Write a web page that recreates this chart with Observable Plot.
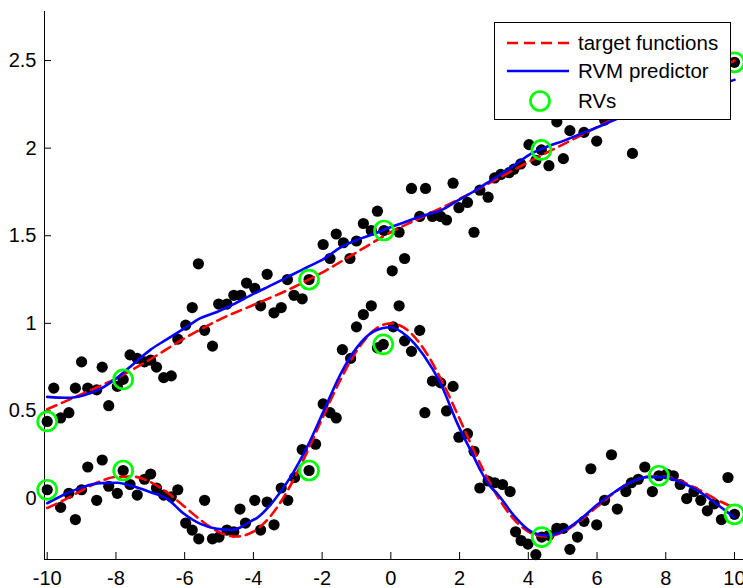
<!DOCTYPE html>
<html>
<head>
<meta charset="utf-8">
<script src="https://cdn.jsdelivr.net/npm/d3@7"></script>
<script src="https://cdn.jsdelivr.net/npm/@observablehq/plot@0.6"></script>
<style>
  html, body { margin: 0; padding: 0; background: #fff; }
  #wrap { position: relative; width: 743px; height: 588px; overflow: hidden; font-family: "Liberation Sans", Arial, sans-serif; }
  #legend { position: absolute; left: 494px; top: 22px; width: 235px; height: 96px; border: 1px solid #000; background: #fff; }
  .row { position: absolute; left: 0; height: 28px; width: 235px; }
  .row svg { position: absolute; left: 10px; top: 0; }
  .row span { position: absolute; left: 83px; top: 1px; font-size: 20.5px; line-height: 24px; color: #000; white-space: nowrap; }
</style>
</head>
<body>
<div id="wrap"></div>
<script>
// ---- tick labels ----
const xTicks = [-10, -8, -6, -4, -2, 0, 2, 4, 6, 8, 10];
const yTicks = [0, 0.5, 1, 1.5, 2, 2.5];

// ---- noisy samples, upper series (linear target) ----
const upperX = [-10.00,-9.81,-9.61,-9.37,-9.18,-9.00,-8.82,-8.56,-8.40,-8.21,-7.96,-7.79,-7.59,-7.38,-7.17,-6.99,-6.82,-6.61,-6.39,-6.20,-5.97,-5.78,-5.60,-5.42,-5.19,-5.01,-4.77,-4.57,-4.37,-4.20,-3.96,-3.79,-3.60,-3.40,-3.19,-3.01,-2.82,-2.58,-2.38,-1.97,-1.77,-1.59,-1.38,-1.19,-1.00,-0.80,-0.57,-0.39,-0.20,0.04,0.24,0.40,0.60,0.84,1.01,1.21,1.45,1.62,1.81,1.98,2.23,2.42,2.59,2.83,3.02,3.20,3.44,3.58,3.78,4.02,4.22,4.38,4.60,4.83,5.02,5.21,5.62,5.99,6.22,7.03,10.00];
const upperY = [0.44,0.63,0.46,0.49,0.63,0.78,0.63,0.62,0.75,0.53,0.64,0.68,0.82,0.80,0.78,0.79,0.75,0.69,0.70,0.91,0.99,1.09,1.34,0.96,0.87,1.11,1.11,1.16,1.16,1.23,1.20,1.10,1.28,1.06,1.09,1.25,1.16,1.14,1.25,1.45,1.37,1.51,1.46,1.37,1.47,1.57,1.53,1.64,1.53,1.30,1.52,1.37,1.77,1.61,1.77,1.61,1.61,1.59,1.80,1.66,1.69,1.52,1.76,1.72,1.83,1.85,1.86,1.88,1.91,2.02,1.93,1.99,1.90,2.15,1.94,2.10,2.09,2.04,2.16,1.97,2.49];

// ---- noisy samples, lower series (sinc target) ----
const lowerX = [-10.00,-9.61,-9.37,-9.18,-9.00,-8.82,-8.56,-8.40,-8.21,-7.96,-7.79,-7.59,-7.38,-7.17,-6.99,-6.82,-6.61,-6.39,-6.20,-5.97,-5.78,-5.59,-5.42,-5.19,-5.00,-4.77,-4.57,-4.39,-4.23,-3.96,-3.79,-3.60,-3.40,-3.19,-3.00,-2.80,-2.58,-2.38,-2.19,-1.97,-1.77,-1.59,-1.41,-1.17,-1.00,-0.80,-0.57,-0.39,-0.22,0.07,0.24,0.40,0.60,0.84,0.99,1.21,1.45,1.62,1.81,1.98,2.23,2.42,2.59,2.83,3.02,3.25,3.47,3.63,3.79,3.99,4.22,4.39,4.60,4.83,5.02,5.21,5.43,5.62,5.82,5.99,6.22,6.42,6.59,6.84,7.00,7.20,7.39,7.61,7.80,8.03,8.22,8.42,8.61,8.82,9.02,9.21,9.41,9.62,9.81,10.00];
const lowerY = [0.05,-0.05,0.03,-0.12,0.05,0.18,-0.01,0.22,0.07,0.03,0.16,0.08,0.02,0.11,0.14,0.06,0.02,0.01,0.05,-0.14,-0.18,-0.23,-0.01,-0.23,-0.22,-0.18,-0.19,-0.06,-0.14,-0.01,-0.18,-0.02,-0.15,0.06,-0.01,0.12,0.28,0.16,0.31,0.54,0.49,0.46,0.85,0.80,0.98,1.05,1.10,0.86,0.88,0.98,1.10,0.90,0.84,0.96,0.49,0.67,0.66,0.50,0.64,0.35,0.37,0.27,0.06,0.10,0.09,0.08,0.04,-0.19,-0.24,-0.26,-0.32,-0.22,-0.21,-0.17,-0.17,-0.29,-0.22,-0.13,0.17,-0.15,-0.01,0.25,-0.06,0.04,0.09,0.11,0.18,0.04,0.13,0.14,0.13,0.08,0.00,0.04,-0.01,-0.07,-0.03,-0.12,0.12,-0.09];

// ---- relevance vectors ----
const rvX = [-10.00,-7.79,-2.38,-0.20,4.38,10.00,-10.00,-7.79,-2.38,-0.22,4.39,7.80,10.00];
const rvY = [0.44,0.68,1.25,1.53,1.99,2.49,0.05,0.16,0.16,0.88,-0.22,0.13,-0.09];

// ---- target functions (red dashed) ----
const targetUpperX = [-10,-9,-8,-7,-6,-5,-4,-3,-2,-1,0,1,2,3,4,5,6,7,8,9,10];
const targetUpperY = [0.51,0.595,0.685,0.795,0.915,1.02,1.105,1.19,1.29,1.405,1.52,1.615,1.71,1.815,1.92,2.02,2.12,2.22,2.31,2.40,2.50];
const targetLowerX = [-10,-9.5,-9,-8.5,-8,-7.5,-7,-6.5,-6,-5.5,-5,-4.5,-4,-3.5,-3,-2.5,-2,-1.5,-1,-0.5,0,0.5,1,1.5,2,2.5,3,3.5,4,4.5,5,5.5,6,6.5,7,7.5,8,8.5,9,9.5,10];
const targetLowerY = [-0.054,-0.008,0.046,0.094,0.124,0.125,0.094,0.033,-0.047,-0.128,-0.192,-0.217,-0.189,-0.100,0.047,0.239,0.455,0.665,0.841,0.959,1.000,0.959,0.841,0.665,0.455,0.239,0.047,-0.100,-0.189,-0.217,-0.192,-0.128,-0.047,0.033,0.094,0.125,0.124,0.094,0.046,-0.008,-0.054];

// ---- RVM predictor (blue) ----
const predUpperX = [-10,-9.42,-8.93,-8.45,-7.96,-7.48,-6.99,-6.51,-6.02,-5.54,-5.06,-4.57,-4.08,-3.40,-2.92,-2.44,-1.95,-1.46,-0.98,-0.49,-0.01,0.48,0.96,1.45,1.94,2.42,2.91,3.58,4.07,4.56,5.04,5.53,6.01,6.50,7.50,8.50,9.50,10];
const predUpperY = [0.58,0.575,0.59,0.626,0.69,0.77,0.85,0.91,0.97,1.03,1.065,1.11,1.16,1.225,1.273,1.32,1.368,1.434,1.477,1.511,1.549,1.583,1.615,1.645,1.70,1.754,1.815,1.90,1.967,2.009,2.043,2.082,2.119,2.161,2.24,2.31,2.36,2.39];
const predLowerX = [-10,-9.42,-8.93,-8.45,-7.96,-7.48,-6.99,-6.51,-6.02,-5.54,-5.06,-4.61,-4.37,-4.08,-3.89,-3.40,-2.92,-2.44,-1.95,-1.46,-0.98,-0.49,-0.01,0.48,0.96,1.45,1.94,2.42,2.61,2.91,3.10,3.58,4.07,4.56,5.04,5.53,6.01,6.50,6.98,7.47,7.95,8.44,8.92,9.41,9.99];
const predLowerY = [-0.027,0.03,0.068,0.088,0.09,0.068,0.036,-0.002,-0.087,-0.145,-0.173,-0.179,-0.164,-0.13,-0.11,-0.011,0.122,0.293,0.502,0.712,0.864,0.955,0.978,0.925,0.816,0.655,0.426,0.236,0.16,0.065,0.027,-0.097,-0.187,-0.211,-0.183,-0.116,-0.034,0.036,0.093,0.122,0.122,0.093,0.046,-0.021,-0.107];

const zip = (xs, ys) => xs.map((x, i) => ({x, y: ys[i]}));
const upper = zip(upperX, upperY);
const lower = zip(lowerX, lowerY);
const rvs = zip(rvX, rvY);
const tUp = zip(targetUpperX, targetUpperY);
const tLo = zip(targetLowerX, targetLowerY);
const pUp = zip(predUpperX, predUpperY);
const pLo = zip(predLowerX, predLowerY);

const xDom = [-10.079, 10.262];
const yDom = [-0.348, 2.780];

const dashed = {x: "x", y: "y", stroke: "#ff0000", strokeWidth: 2.6, strokeDasharray: "10,6", curve: "monotone-x"};
const solid = {x: "x", y: "y", stroke: "#0000ff", strokeWidth: 2.6, curve: "monotone-x"};

const chart = Plot.plot({
  width: 743,
  height: 588,
  marginLeft: 44,
  marginRight: 0,
  marginTop: 11,
  marginBottom: 29,
  style: {fontFamily: "'Liberation Sans', Arial, sans-serif", fontSize: "20px", color: "#000", background: "#fff"},
  x: {domain: xDom, ticks: xTicks, tickFormat: d => String(d), tickSize: -7, tickPadding: 18, label: null},
  y: {domain: yDom, ticks: yTicks, tickFormat: d => String(d), tickSize: -7, tickPadding: 15, label: null},
  marks: [
    Plot.ruleY([yDom[0]], {stroke: "#000", strokeWidth: 1}),
    Plot.ruleX([xDom[0]], {stroke: "#000", strokeWidth: 1}),
    Plot.dot(upper, {x: "x", y: "y", r: 5.6, fill: "#000", stroke: "none"}),
    Plot.dot(lower, {x: "x", y: "y", r: 5.6, fill: "#000", stroke: "none"}),
    Plot.line(tUp, dashed),
    Plot.line(tLo, dashed),
    Plot.line(pUp, solid),
    Plot.line(pLo, solid),
    Plot.dot(rvs, {x: "x", y: "y", r: 9.5, stroke: "#00ff00", strokeWidth: 2.7, fill: "none"})
  ]
});

const wrap = document.getElementById("wrap");
wrap.appendChild(chart);

// legend (HTML overlay)
const legend = document.createElement("div");
legend.id = "legend";
legend.innerHTML = `
  <div class="row" style="top:7px">
    <svg width="66" height="28"><line x1="2" y1="13" x2="64" y2="13" stroke="#ff0000" stroke-width="2.6" stroke-dasharray="11,6"/></svg>
    <span>target functions</span>
  </div>
  <div class="row" style="top:35px">
    <svg width="66" height="28"><line x1="2" y1="13" x2="64" y2="13" stroke="#0000ff" stroke-width="2.6"/></svg>
    <span>RVM predictor</span>
  </div>
  <div class="row" style="top:65px">
    <svg width="66" height="28"><circle cx="35" cy="13" r="9.5" stroke="#00ff00" stroke-width="2.7" fill="none"/></svg>
    <span>RVs</span>
  </div>`;
wrap.appendChild(legend);
</script>
</body>
</html>
